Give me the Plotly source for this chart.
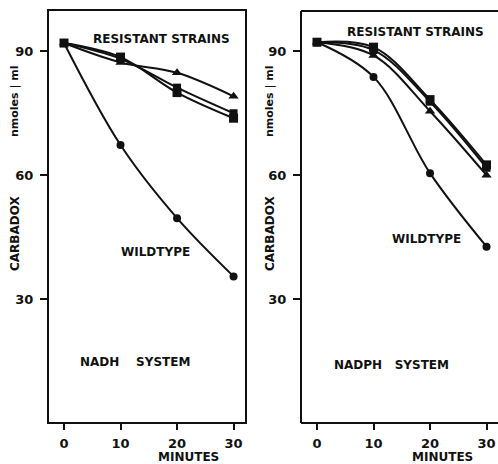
import plotly.graph_objects as go

minutes = [0, 10, 20, 30]

# NADH system (left panel)
nadh_wild = [92.0, 67.3, 49.6, 35.5]
nadh_res_tri = [92.0, 87.3, 84.8, 79.1]
nadh_res_sq = [92.0, 88.6, 80.0, 73.8]
nadh_res_sq2 = [92.0, 88.2, 81.2, 75.0]

# NADPH system (right panel)
nadph_wild = [92.2, 83.8, 60.5, 42.7]
nadph_res_sq = [92.2, 91.0, 78.3, 62.5]
nadph_res_tri = [92.2, 89.0, 75.5, 60.0]
nadph_res_sq2 = [92.2, 90.3, 77.8, 61.8]

y_ticks = [30, 60, 90]
x_ticks = [0, 10, 20, 30]

W, H = 498, 464
INK = "#111111"
FONT = "DejaVu Sans"

def px(x):
    return x / W

def py(y):
    return (H - y) / H

fig = go.Figure()

def add_series(xa, ya, ys, symbol, size):
    fig.add_trace(go.Scatter(
        x=minutes, y=ys, xaxis=xa, yaxis=ya, mode="lines+markers",
        line=dict(color=INK, width=2, shape="spline", smoothing=1.0),
        marker=dict(symbol=symbol, size=size, color=INK),
        showlegend=False, cliponaxis=False))

add_series("x", "y", nadh_wild, "circle", 8)
add_series("x", "y", nadh_res_tri, "triangle-up", 9)
add_series("x", "y", nadh_res_sq, "square", 9)
add_series("x", "y", nadh_res_sq2, "square", 8)

add_series("x2", "y2", nadph_wild, "circle", 8)
add_series("x2", "y2", nadph_res_sq, "square", 9)
add_series("x2", "y2", nadph_res_tri, "triangle-up", 9)
add_series("x2", "y2", nadph_res_sq2, "square", 8)

ydom = [py(423), py(10)]
common_y = dict(range=[0, 100], domain=ydom, tickvals=y_ticks, ticks="outside",
                ticklen=7, tickwidth=1.5, tickcolor=INK, showgrid=False,
                zeroline=False, showline=False, ticklabelstandoff=4,
                tickfont=dict(family=FONT, size=13, color=INK, weight="bold"))
common_x = dict(tickvals=x_ticks, ticks="outside", ticklen=6, tickwidth=1.5,
                tickcolor=INK, showgrid=False, zeroline=False, showline=False,
                ticklabelstandoff=2,
                tickfont=dict(family=FONT, size=13, color=INK, weight="bold"))

fig.update_layout(
    width=W, height=H, margin=dict(l=0, r=0, t=0, b=0),
    paper_bgcolor="white", plot_bgcolor="white",
    xaxis=dict(domain=[px(48), px(246)], range=[-2.83, 32.2], anchor="y", **common_x),
    yaxis=dict(anchor="x", **common_y),
    xaxis2=dict(domain=[px(301), 1.0], range=[-2.83, 32.03], anchor="y2", **common_x),
    yaxis2=dict(anchor="x2", **common_y),
)

# frames
lw = 2
fig.add_shape(type="rect", xref="paper", yref="paper", x0=px(48), x1=px(246),
              y0=py(423), y1=py(10), line=dict(color=INK, width=lw))
for (x0, y0, x1, y1) in [(301, 423, 301, 11), (301, 11, 499, 11), (301, 423, 499, 423)]:
    fig.add_shape(type="line", xref="paper", yref="paper", x0=px(x0), x1=px(x1),
                  y0=py(y0), y1=py(y1), line=dict(color=INK, width=lw))

def txt(text, x, y, xref, yref, angle=0, size=12):
    fig.add_annotation(text=text, x=x, y=y, xref=xref, yref=yref, showarrow=False,
                       textangle=angle, xanchor="center", yanchor="middle",
                       font=dict(family=FONT, size=size, color=INK, weight="bold"))

# in-plot labels
txt("RESISTANT STRAINS", 17.2, 93.0, "x", "y")
txt("WILDTYPE", 16.1, 41.4, "x", "y")
txt("NADH\u00a0\u00a0\u00a0\u00a0SYSTEM", 12.6, 14.8, "x", "y")
txt("RESISTANT STRAINS", 17.4, 94.6, "x2", "y2")
txt("WILDTYPE", 19.3, 44.6, "x2", "y2")
txt("NADPH\u00a0\u00a0\u00a0SYSTEM", 13.1, 14.1, "x2", "y2")

# axis titles
for xc in (15, 270):
    txt("nmoles | ml", px(xc), py(101), "paper", "paper", angle=-90, size=11)
    txt("CARBADOX", px(xc), py(233), "paper", "paper", angle=-90, size=12)
txt("MINUTES", px(188), py(457), "paper", "paper")
txt("MINUTES", px(442), py(457), "paper", "paper")

fig.write_html("out.html", config={"displayModeBar": False},
               post_script="document.body.style.margin='0';document.body.style.overflow='hidden';")
